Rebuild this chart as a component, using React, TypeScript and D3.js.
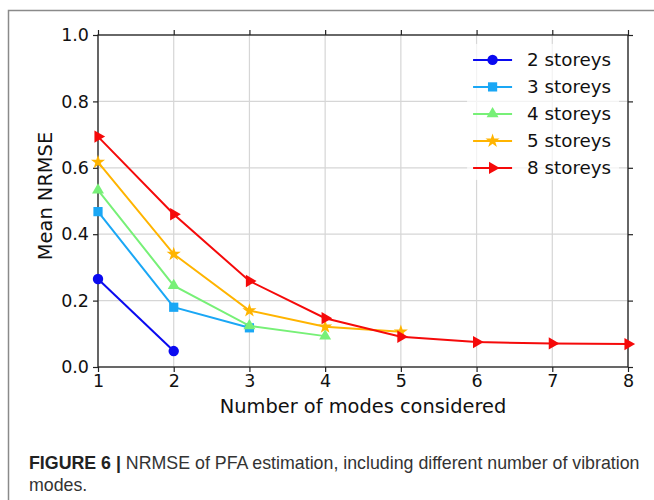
import { useEffect, useRef } from 'react';
import * as d3 from 'd3';

// modes considered (x) and mean NRMSE per building height
const modes = [1, 2, 3, 4, 5, 6, 7, 8];
const storeys2 = [0.265, 0.048];
const storeys3 = [0.468, 0.18, 0.118];
const storeys4 = [0.533, 0.245, 0.124, 0.093];
const storeys5 = [0.617, 0.34, 0.17, 0.121, 0.106];
const storeys8 = [0.694, 0.46, 0.259, 0.147, 0.091, 0.075, 0.071, 0.069];

const seriesNames = ['2 storeys', '3 storeys', '4 storeys', '5 storeys', '8 storeys'];
const yTicks = [0, 0.2, 0.4, 0.6, 0.8, 1.0];

const W = 654;
const H = 500;

export default function App() {
  const svgRef = useRef<SVGSVGElement>(null);

  useEffect(() => {
    if (!svgRef.current) return;
    const root = d3.select(svgRef.current);
    root.selectAll('*').remove();

    const margin = { top: 35, right: 26, bottom: 133, left: 98 };
    const width = W - margin.left - margin.right;
    const height = H - margin.top - margin.bottom;

    // outer figure frame (left + top)
    root.append('path')
      .attr('d', `M8.5,${H} L8.5,10.5 L${W},10.5`)
      .attr('fill', 'none')
      .attr('stroke', '#8a8a8a')
      .attr('stroke-width', 1.5);

    const g = root.append('g').attr('transform', `translate(${margin.left},${margin.top})`);

    const x = d3.scaleLinear().domain([1, 8]).range([0, width]);
    const y = d3.scaleLinear().domain([0, 1]).range([height, 0]);

    // grid
    g.append('g')
      .selectAll('line')
      .data(modes)
      .join('line')
      .attr('x1', d => x(d)).attr('x2', d => x(d))
      .attr('y1', 0).attr('y2', height)
      .attr('stroke', '#d6d6d6').attr('stroke-width', 1.2);
    g.append('g')
      .selectAll('line')
      .data(yTicks)
      .join('line')
      .attr('y1', d => y(d)).attr('y2', d => y(d))
      .attr('x1', 0).attr('x2', width)
      .attr('stroke', '#d6d6d6').attr('stroke-width', 1.2);

    const font = 'DejaVu Sans, sans-serif';
    const styleAxis = (sel: any, labels: boolean) => {
      sel.select('.domain').remove();
      sel.selectAll('line').attr('stroke', '#222').attr('stroke-width', 1.2);
      sel.selectAll('text')
        .style('font-family', font)
        .style('font-size', '17.5px')
        .attr('fill', '#111');
      if (!labels) sel.selectAll('text').remove();
    };

    g.append('g')
      .attr('transform', `translate(0,${height})`)
      .call(d3.axisBottom(x).tickValues(modes).tickFormat(d3.format('d')).tickSize(5).tickPadding(3))
      .call((s: any) => styleAxis(s, true));
    g.append('g')
      .call(d3.axisTop(x).tickValues(modes).tickSize(5))
      .call((s: any) => styleAxis(s, false));
    g.append('g')
      .call(d3.axisLeft(y).tickValues(yTicks).tickFormat(d3.format('.1f')).tickSize(5).tickPadding(4))
      .call((s: any) => styleAxis(s, true));
    g.append('g')
      .attr('transform', `translate(${width},0)`)
      .call(d3.axisRight(y).tickValues(yTicks).tickSize(5))
      .call((s: any) => styleAxis(s, false));

    // spines
    g.append('rect')
      .attr('width', width).attr('height', height)
      .attr('fill', 'none')
      .attr('stroke', '#222')
      .attr('stroke-width', 1.3);

    const allSeries = [storeys2, storeys3, storeys4, storeys5, storeys8];
    const colors = ['#0a0af0', '#1aa7f5', '#77f077', '#ffb400', '#f50a0a'];
    const symbols = [
      { type: d3.symbolCircle, size: 85, rotate: 0 },
      { type: d3.symbolSquare, size: 85, rotate: 0 },
      { type: d3.symbolTriangle, size: 62, rotate: 0 },
      { type: d3.symbolStar, size: 62, rotate: 0 },
      { type: d3.symbolTriangle, size: 66, rotate: 90 },
    ];

    const line = d3.line<number>()
      .x((_, i) => x(modes[i]))
      .y(d => y(d));

    allSeries.forEach((vals, si) => {
      const sg = g.append('g');
      sg.append('path')
        .datum(vals)
        .attr('fill', 'none')
        .attr('stroke', colors[si])
        .attr('stroke-width', 2)
        .attr('d', line);
      const sym = d3.symbol().type(symbols[si].type).size(symbols[si].size);
      sg.selectAll('path.m')
        .data(vals)
        .join('path')
        .attr('class', 'm')
        .attr('d', sym)
        .attr('fill', colors[si])
        .attr('transform', (d, i) => `translate(${x(modes[i])},${y(d)}) rotate(${symbols[si].rotate})`);
    });

    // legend
    const lg = g.append('g').attr('transform', `translate(${x(6) - 3.5},${y(0.925)})`);
    lg.append('rect')
      .attr('x', -6).attr('y', -16)
      .attr('width', 152).attr('height', 136)
      .attr('fill', '#fff').attr('opacity', 0.7);
    seriesNames.forEach((name, i) => {
      const ey = i * 27;
      lg.append('line')
        .attr('x1', 0).attr('x2', 39)
        .attr('y1', ey).attr('y2', ey)
        .attr('stroke', colors[i]).attr('stroke-width', 2);
      const sym = d3.symbol().type(symbols[i].type).size(symbols[i].size);
      lg.append('path')
        .attr('d', sym)
        .attr('fill', colors[i])
        .attr('transform', `translate(19.5,${ey}) rotate(${symbols[i].rotate})`);
      lg.append('text')
        .attr('x', 54).attr('y', ey + 6.5)
        .style('font-family', font)
        .style('font-size', '18.3px')
        .attr('fill', '#111')
        .text(name);
    });

    // axis titles
    g.append('text')
      .attr('x', width / 2).attr('y', height + 46)
      .attr('text-anchor', 'middle')
      .style('font-family', font)
      .style('font-size', '19.4px')
      .attr('fill', '#111')
      .text('Number of modes considered');
    g.append('text')
      .attr('transform', `translate(-46,${height / 2 - 5}) rotate(-90)`)
      .attr('text-anchor', 'middle')
      .style('font-family', font)
      .style('font-size', '19.4px')
      .attr('fill', '#111')
      .text('Mean NRMSE');

    // caption
    const cap = root.append('text')
      .attr('x', 29).attr('y', 469)
      .style('font-family', 'Liberation Sans, Arial, sans-serif')
      .style('font-size', '17.8px')
      .attr('fill', '#333');
    cap.append('tspan').attr('font-weight', 'bold').attr('fill', '#222').text('FIGURE 6 | ');
    cap.append('tspan').text('NRMSE of PFA estimation, including different number of vibration');
    root.append('text')
      .attr('x', 29).attr('y', 491)
      .style('font-family', 'Liberation Sans, Arial, sans-serif')
      .style('font-size', '17.8px')
      .attr('fill', '#333')
      .text('modes.');
  }, []);

  return (
    <svg
      ref={svgRef}
      width={W}
      height={H}
      style={{ position: 'absolute', left: 0, top: 0, background: '#fff' }}
    />
  );
}
